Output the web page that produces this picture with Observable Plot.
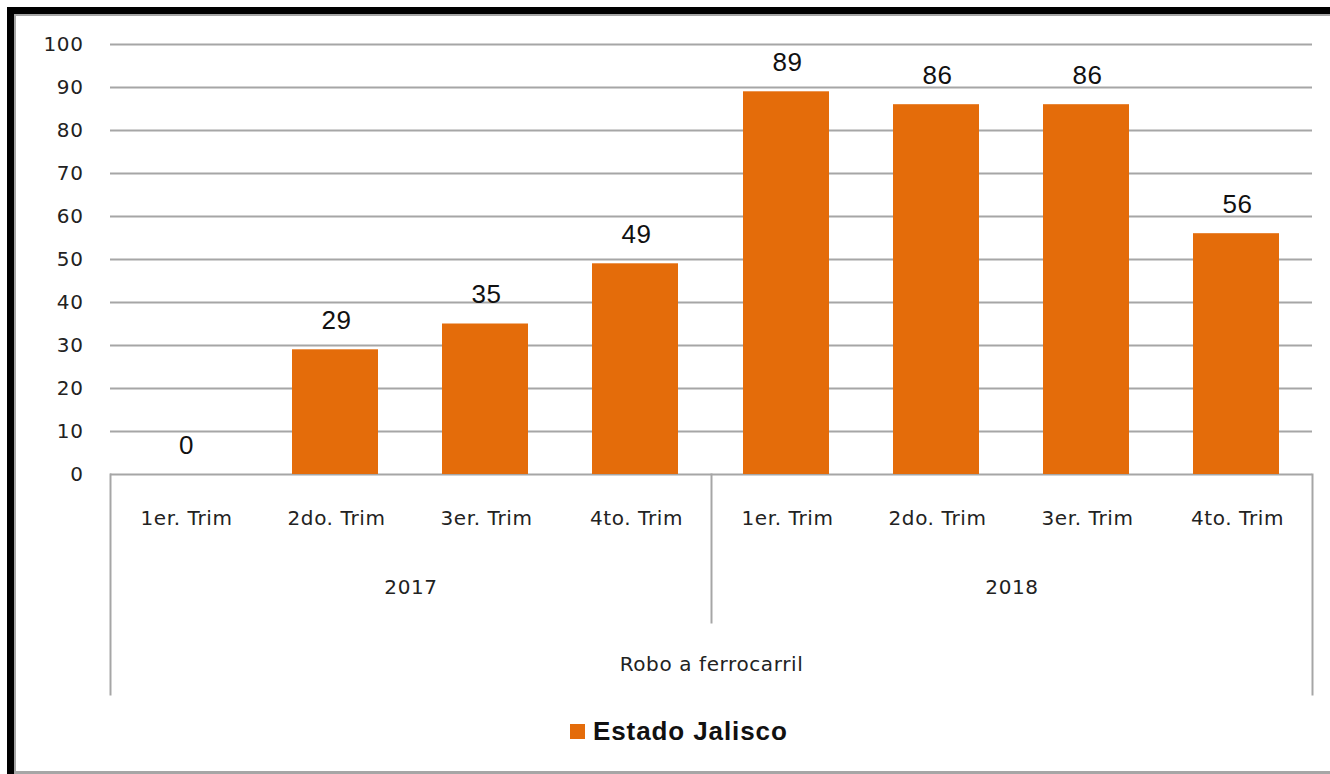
<!DOCTYPE html>
<html>
<head>
<meta charset="utf-8">
<script src="https://cdn.jsdelivr.net/npm/d3@7"></script>
<script src="https://cdn.jsdelivr.net/npm/@observablehq/plot@0.6"></script>
<style>
  html, body { margin: 0; padding: 0; background: #fff; }
  #page { position: relative; width: 1330px; height: 774px; overflow: hidden; background: #fff; }
  #chart { position: absolute; left: 0; top: 0; }
  #chart svg text { letter-spacing: 0.6px; }
  .bd { position: absolute; z-index: 5; }
  #legend { position: absolute; left: 570px; top: 714px; height: 34px; display: flex; align-items: center;
            font-family: "Liberation Sans", Arial, sans-serif; font-weight: bold; font-size: 26px; letter-spacing: 0.9px; color: #111; }
  #legend .sw { width: 15px; height: 15px; background: #E46C0A; margin-right: 8px; }
</style>
</head>
<body>
<div id="page">
  <div id="chart"></div>
  <div class="bd" style="left:7px;top:7px;width:1323px;height:7px;background:#000"></div>
  <div class="bd" style="left:7px;top:7px;width:7px;height:767px;background:#000"></div>
  <div class="bd" style="left:14px;top:14px;width:1316px;height:2px;background:#a6a6a6"></div>
  <div class="bd" style="left:14px;top:14px;width:2px;height:760px;background:#a6a6a6"></div>
  <div class="bd" style="left:14px;top:771px;width:1316px;height:3px;background:#a6a6a6"></div>
  <div id="legend"><div class="sw"></div><span>Estado Jalisco</span></div>
</div>
<script>
const years = ["2017", "2017", "2017", "2017", "2018", "2018", "2018", "2018"];
const quarters = ["1er. Trim", "2do. Trim", "3er. Trim", "4to. Trim", "1er. Trim", "2do. Trim", "3er. Trim", "4to. Trim"];
const values = [0, 29, 35, 49, 89, 86, 86, 56];
const yearDomain = ["2017", "2018"];
const quarterDomain = ["1er. Trim", "2do. Trim", "3er. Trim", "4to. Trim"];
const yTicks = [0, 10, 20, 30, 40, 50, 60, 70, 80, 90, 100];
const groupLabel = "Robo a ferrocarril";

const data = values.map((v, i) => ({year: years[i], quarter: quarters[i], value: v}));

const gray = "#a6a6a6";
const axisFont = {fontFamily: "DejaVu Sans, sans-serif", fontSize: 20, fill: "#222"};
const chart = Plot.plot({
  width: 1330,
  height: 700,
  marginLeft: 110,
  marginRight: 18,
  marginTop: 44,
  marginBottom: 226,
  style: {fontFamily: "DejaVu Sans, sans-serif", fontSize: "20px", color: "#222", background: "transparent"},
  fx: {domain: yearDomain, padding: 0},
  x: {domain: quarterDomain, paddingInner: 0.43, paddingOuter: 0.215},
  y: {domain: [0, 100], ticks: yTicks},
  marks: [
    Plot.gridY(yTicks, {stroke: gray, strokeOpacity: 1, strokeWidth: 2}),
    Plot.barY(data, {fx: "year", x: "quarter", y: "value", fill: "#E46C0A", insetLeft: -1, insetRight: 1}),
    Plot.text(data, {fx: "year", x: "quarter", y: "value", text: d => String(d.value),
      dy: -29, lineAnchor: "middle", fontFamily: "Liberation Sans, Arial, sans-serif", fontSize: 26, fill: "#111"}),
    Plot.frame({fx: "2017", anchor: "left", insetTop: 430, insetBottom: -220, stroke: gray, strokeWidth: 2}),
    Plot.frame({fx: "2018", anchor: "left", insetTop: 430, insetBottom: -148, stroke: gray, strokeWidth: 2}),
    Plot.frame({fx: "2018", anchor: "right", insetTop: 430, insetBottom: -220, stroke: gray, strokeWidth: 2}),
    Plot.axisY({ticks: yTicks, tickSize: 0, tickPadding: 27, label: null, ...axisFont}),
    Plot.axisX({tickSize: 0, tickPadding: 36, label: null, ...axisFont}),
    Plot.axisFx({anchor: "bottom", tickSize: 0, tickPadding: 105, label: groupLabel, labelAnchor: "center", labelOffset: 196, ...axisFont})
  ]
});
document.getElementById("chart").appendChild(chart);
</script>
</body>
</html>
